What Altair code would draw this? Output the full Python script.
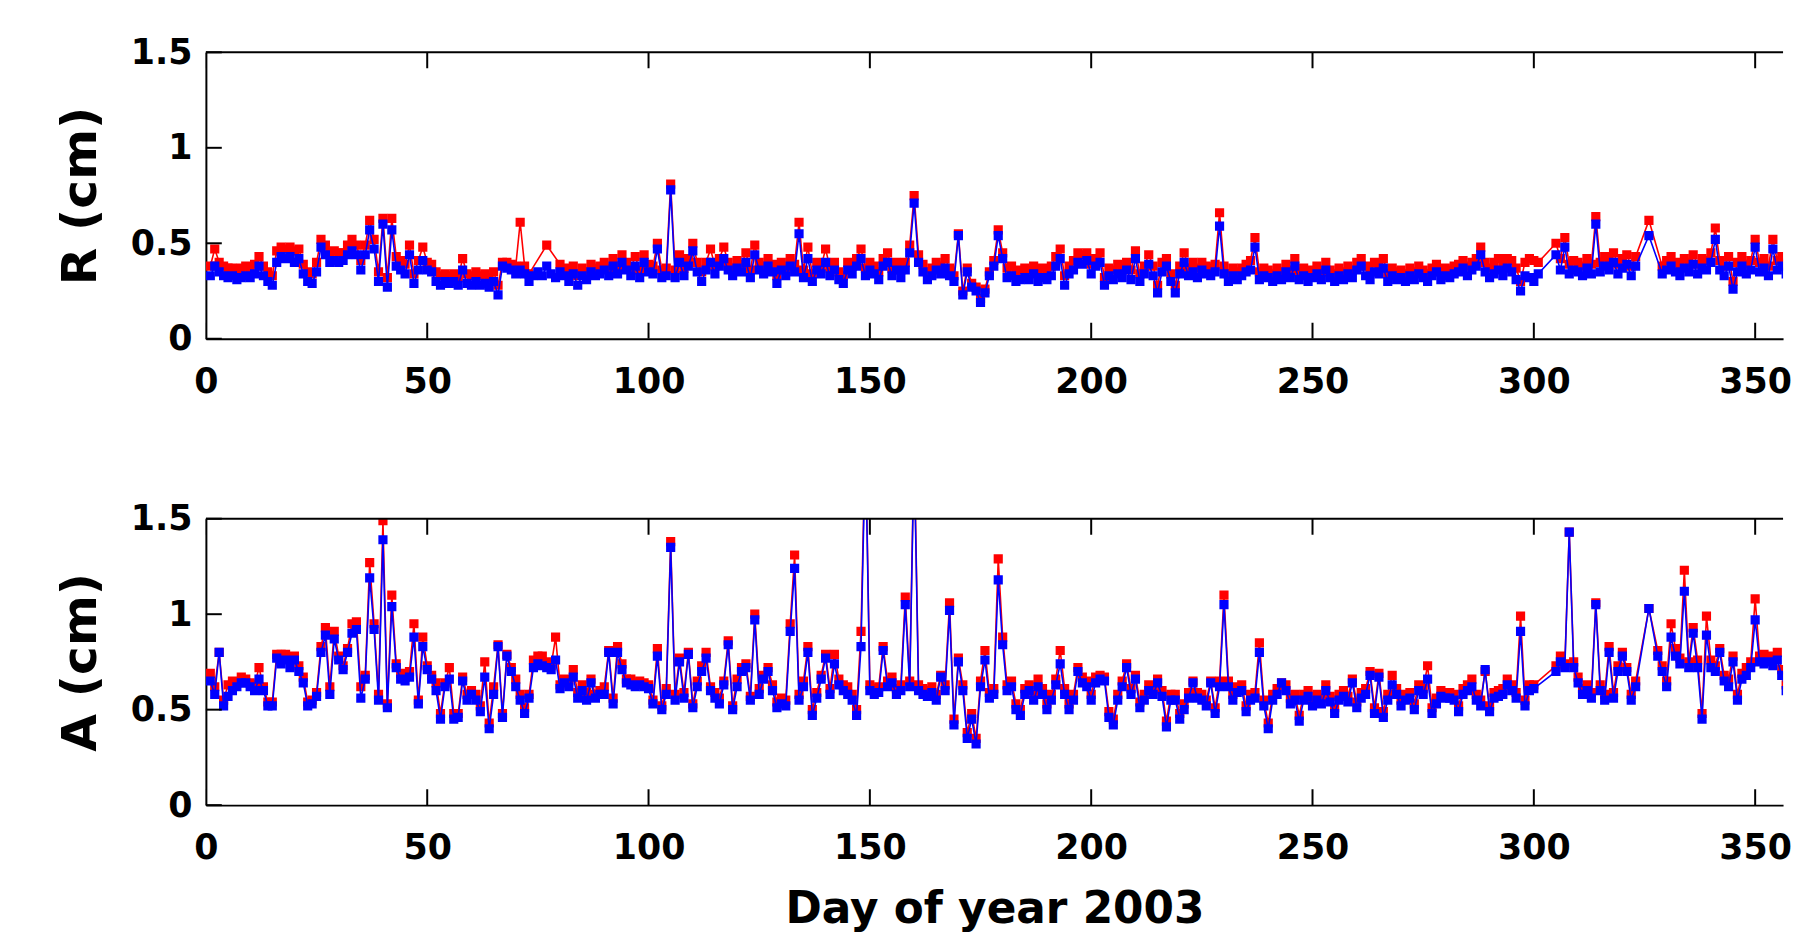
import altair as alt
import pandas as pd

# ---------------- data ----------------
days = list(range(1, 361))

a_blue = [
    0.65, 0.58, 0.80, 0.52, 0.57, 0.60, 0.62, 0.64, 0.64, 0.62,
    0.60, 0.66, 0.60, 0.52, 0.52, 0.77, 0.74, 0.76, 0.72, 0.76,
    0.70, 0.64, 0.52, 0.53, 0.57, 0.80, 0.89, 0.58, 0.87, 0.76,
    0.71, 0.80, 0.90, 0.92, 0.56, 0.66, 1.19, 0.92, 0.55, 1.39,
    0.51, 1.04, 0.72, 0.66, 0.65, 0.67, 0.88, 0.53, 0.83, 0.71,
    0.66, 0.60, 0.45, 0.62, 0.66, 0.45, 0.46, 0.65, 0.55, 0.58,
    0.55, 0.49, 0.67, 0.40, 0.58, 0.83, 0.46, 0.78, 0.70, 0.62,
    0.55, 0.48, 0.56, 0.72, 0.74, 0.73, 0.72, 0.71, 0.76, 0.61,
    0.64, 0.62, 0.67, 0.56, 0.60, 0.55, 0.64, 0.56, 0.58, 0.58,
    0.80, 0.53, 0.80, 0.71, 0.64, 0.63, 0.62, 0.63, 0.62, 0.61,
    0.53, 0.78, 0.50, 0.58, 1.35, 0.55, 0.75, 0.56, 0.79, 0.51,
    0.62, 0.70, 0.77, 0.60, 0.56, 0.53, 0.63, 0.84, 0.50, 0.62,
    0.70, 0.72, 0.55, 0.97, 0.58, 0.66, 0.70, 0.60, 0.51, 0.53,
    0.52, 0.91, 1.24, 0.55, 0.62, 0.80, 0.47, 0.56, 0.66, 0.77,
    0.58, 0.74, 0.63, 0.60, 0.58, 0.55, 0.47, 0.83, 1.90, 0.60,
    0.58, 0.59, 0.81, 0.62, 0.64, 0.58, 0.60, 1.05, 0.62, 1.85,
    0.60, 0.58, 0.57, 0.59, 0.55, 0.67, 0.60, 1.02, 0.42, 0.75,
    0.60, 0.35, 0.45, 0.32, 0.62, 0.76, 0.56, 0.58, 1.18, 0.84,
    0.60, 0.62, 0.50, 0.47, 0.58, 0.60, 0.55, 0.62, 0.58, 0.50,
    0.55, 0.63, 0.74, 0.58, 0.50, 0.55, 0.70, 0.64, 0.62, 0.55,
    0.64, 0.66, 0.65, 0.46, 0.42, 0.55, 0.62, 0.72, 0.58, 0.66,
    0.51, 0.55, 0.60, 0.58, 0.64, 0.57, 0.41, 0.55, 0.55, 0.45,
    0.50, 0.56, 0.64, 0.56, 0.55, 0.52, 0.64, 0.48, 0.62, 1.05,
    0.62, 0.55, 0.59, 0.60, 0.49, 0.55, 0.56, 0.80, 0.52, 0.40,
    0.55, 0.58, 0.64, 0.60, 0.53, 0.55, 0.44, 0.55, 0.57, 0.52,
    0.55, 0.53, 0.60, 0.54, 0.48, 0.55, 0.57, 0.54, 0.64, 0.51,
    0.56, 0.58, 0.68, 0.48, 0.67, 0.46, 0.55, 0.63, 0.58, 0.52,
    0.55, 0.56, 0.50, 0.60, 0.58, 0.66, 0.48, 0.53, 0.57, 0.56,
    0.56, 0.55, 0.49, 0.58, 0.60, 0.62, 0.55, 0.52, 0.71, 0.49,
    0.56, 0.57, 0.58, 0.63, 0.60, 0.56, 0.91, 0.52, 0.60, 0.61,
    None, None, None, None, 0.70, 0.75, 0.72, 1.43, 0.72, 0.64,
    0.58, 0.60, 0.56, 1.05, 0.60, 0.55, 0.80, 0.56, 0.70, 0.78,
    0.70, 0.55, 0.62, None, None, 1.03, None, 0.78, 0.70, 0.62,
    0.88, 0.78, 0.74, 1.12, 0.72, 0.90, 0.72, 0.45, 0.89, 0.72,
    0.70, 0.80, 0.65, 0.62, 0.75, 0.55, 0.66, 0.68, 0.72, 0.97,
    0.75, 0.74, 0.75, 0.73, 0.76, 0.68, 0.60, 0.55, 0.58, 0.60,
]

a_red = [
    0.69, 0.62, 0.80, 0.55, 0.63, 0.65, 0.64, 0.67, 0.66, 0.64,
    0.63, 0.72, 0.62, 0.54, 0.54, 0.79, 0.79, 0.79, 0.77, 0.78,
    0.73, 0.67, 0.54, 0.55, 0.59, 0.83, 0.93, 0.62, 0.91, 0.78,
    0.73, 0.82, 0.95, 0.96, 0.62, 0.68, 1.27, 0.95, 0.58, 1.49,
    0.53, 1.10, 0.74, 0.69, 0.67, 0.70, 0.95, 0.55, 0.88, 0.73,
    0.68, 0.64, 0.48, 0.64, 0.72, 0.48, 0.48, 0.67, 0.58, 0.60,
    0.58, 0.52, 0.75, 0.43, 0.62, 0.84, 0.48, 0.79, 0.72, 0.66,
    0.58, 0.51, 0.58, 0.76, 0.78, 0.78, 0.75, 0.73, 0.88, 0.63,
    0.66, 0.65, 0.71, 0.59, 0.63, 0.59, 0.66, 0.58, 0.60, 0.62,
    0.81, 0.56, 0.83, 0.74, 0.66, 0.66, 0.64, 0.65, 0.64, 0.63,
    0.55, 0.82, 0.52, 0.61, 1.38, 0.58, 0.77, 0.59, 0.80, 0.53,
    0.65, 0.73, 0.80, 0.62, 0.59, 0.56, 0.65, 0.86, 0.52, 0.66,
    0.72, 0.74, 0.57, 1.00, 0.61, 0.68, 0.72, 0.63, 0.54, 0.56,
    0.55, 0.95, 1.31, 0.58, 0.65, 0.83, 0.50, 0.59, 0.68, 0.79,
    0.61, 0.79, 0.66, 0.63, 0.62, 0.58, 0.50, 0.91, 1.95, 0.63,
    0.61, 0.62, 0.83, 0.65, 0.67, 0.61, 0.63, 1.09, 0.65, 1.90,
    0.63, 0.61, 0.60, 0.62, 0.58, 0.68, 0.63, 1.06, 0.45, 0.77,
    0.63, 0.38, 0.48, 0.35, 0.65, 0.81, 0.59, 0.61, 1.29, 0.88,
    0.63, 0.65, 0.53, 0.50, 0.61, 0.63, 0.58, 0.66, 0.61, 0.53,
    0.58, 0.66, 0.81, 0.61, 0.53, 0.58, 0.72, 0.67, 0.65, 0.58,
    0.67, 0.68, 0.67, 0.49, 0.45, 0.58, 0.65, 0.74, 0.61, 0.68,
    0.54, 0.58, 0.63, 0.61, 0.66, 0.60, 0.44, 0.58, 0.58, 0.48,
    0.53, 0.59, 0.65, 0.59, 0.58, 0.55, 0.65, 0.51, 0.65, 1.10,
    0.65, 0.58, 0.62, 0.63, 0.52, 0.58, 0.59, 0.85, 0.55, 0.43,
    0.58, 0.61, 0.64, 0.63, 0.56, 0.58, 0.47, 0.58, 0.60, 0.55,
    0.58, 0.56, 0.63, 0.57, 0.51, 0.58, 0.60, 0.57, 0.66, 0.54,
    0.59, 0.61, 0.70, 0.51, 0.69, 0.49, 0.58, 0.68, 0.61, 0.55,
    0.58, 0.59, 0.53, 0.63, 0.61, 0.73, 0.51, 0.56, 0.60, 0.59,
    0.59, 0.58, 0.52, 0.61, 0.63, 0.66, 0.58, 0.55, 0.70, 0.52,
    0.59, 0.60, 0.61, 0.66, 0.63, 0.59, 0.99, 0.55, 0.63, 0.63,
    None, None, None, None, 0.73, 0.78, 0.74, 1.43, 0.75, 0.67,
    0.61, 0.63, 0.59, 1.06, 0.63, 0.58, 0.83, 0.59, 0.73, 0.80,
    0.72, 0.58, 0.65, None, None, 1.03, None, 0.81, 0.73, 0.65,
    0.95, 0.82, 0.77, 1.23, 0.75, 0.93, 0.76, 0.48, 0.99, 0.76,
    0.73, 0.82, 0.68, 0.66, 0.78, 0.58, 0.69, 0.72, 0.75, 1.08,
    0.78, 0.79, 0.78, 0.76, 0.80, 0.71, 0.63, 0.58, 0.61, 0.63,
]

r_blue = [
    0.33, 0.38, 0.35, 0.33, 0.32, 0.33, 0.31, 0.32, 0.33, 0.32,
    0.34, 0.38, 0.33, 0.30, 0.28, 0.40, 0.43, 0.42, 0.43, 0.40,
    0.42, 0.34, 0.30, 0.29, 0.35, 0.48, 0.44, 0.40, 0.41, 0.40,
    0.41, 0.44, 0.46, 0.44, 0.36, 0.44, 0.57, 0.47, 0.30, 0.60,
    0.27, 0.57, 0.38, 0.36, 0.34, 0.44, 0.29, 0.36, 0.41, 0.36,
    0.35, 0.30, 0.28, 0.30, 0.29, 0.30, 0.28, 0.36, 0.29, 0.28,
    0.30, 0.28, 0.29, 0.27, 0.30, 0.23, 0.38, 0.37, 0.36, 0.34,
    0.36, 0.34, 0.30, 0.33, 0.35, 0.33, 0.38, 0.34, 0.32, 0.35,
    0.33, 0.30, 0.34, 0.28, 0.33, 0.31, 0.35, 0.33, 0.34, 0.36,
    0.33, 0.38, 0.34, 0.40, 0.36, 0.33, 0.38, 0.32, 0.40, 0.35,
    0.34, 0.47, 0.32, 0.33, 0.78, 0.32, 0.40, 0.33, 0.38, 0.46,
    0.35, 0.30, 0.36, 0.40, 0.34, 0.38, 0.42, 0.36, 0.33, 0.37,
    0.35, 0.40, 0.32, 0.44, 0.36, 0.34, 0.38, 0.35, 0.29, 0.36,
    0.33, 0.38, 0.35, 0.55, 0.32, 0.42, 0.30, 0.36, 0.34, 0.40,
    0.33, 0.36, 0.31, 0.29, 0.36, 0.34, 0.38, 0.42, 0.33, 0.36,
    0.34, 0.31, 0.38, 0.40, 0.33, 0.36, 0.32, 0.36, 0.45, 0.71,
    0.40, 0.35, 0.31, 0.33, 0.36, 0.34, 0.37, 0.33, 0.30, 0.54,
    0.23, 0.35, 0.27, 0.25, 0.19, 0.24, 0.33, 0.38, 0.54, 0.42,
    0.32, 0.33, 0.30, 0.31, 0.32, 0.31, 0.34, 0.30, 0.32, 0.31,
    0.33, 0.38, 0.42, 0.28, 0.34, 0.36, 0.40, 0.39, 0.41, 0.34,
    0.38, 0.40, 0.28, 0.33, 0.31, 0.34, 0.32, 0.36, 0.31, 0.42,
    0.30, 0.34, 0.39, 0.33, 0.24, 0.35, 0.38, 0.30, 0.24, 0.34,
    0.40, 0.33, 0.35, 0.32, 0.36, 0.34, 0.33, 0.35, 0.59, 0.34,
    0.30, 0.33, 0.31, 0.33, 0.35, 0.36, 0.48, 0.31, 0.33, 0.32,
    0.30, 0.33, 0.31, 0.35, 0.32, 0.38, 0.31, 0.33, 0.30, 0.32,
    0.34, 0.31, 0.36, 0.32, 0.30, 0.33, 0.31, 0.34, 0.32, 0.36,
    0.38, 0.33, 0.31, 0.35, 0.34, 0.37, 0.30, 0.33, 0.31, 0.32,
    0.30, 0.33, 0.31, 0.34, 0.32, 0.30, 0.33, 0.35, 0.31, 0.33,
    0.32, 0.34, 0.35, 0.37, 0.33, 0.36, 0.38, 0.44, 0.35, 0.32,
    0.34, 0.36, 0.33, 0.37, 0.35, 0.31, 0.25, 0.33, 0.32, 0.30,
    0.34, None, None, None, 0.44, 0.36, 0.48, 0.34, 0.36, 0.35,
    0.33, 0.37, 0.34, 0.60, 0.35, 0.38, 0.36, 0.40, 0.34, 0.37,
    0.39, 0.33, 0.38, None, None, 0.54, None, None, 0.34, 0.36,
    0.38, 0.35, 0.33, 0.37, 0.35, 0.39, 0.34, 0.37, 0.36, 0.40,
    0.52, 0.36, 0.33, 0.38, 0.26, 0.35, 0.38, 0.34, 0.36, 0.48,
    0.35, 0.37, 0.33, 0.47, 0.36, 0.38, 0.34, 0.35, 0.33, 0.36,
]

r_red = [
    0.38, 0.47, 0.40, 0.38, 0.37, 0.37, 0.36, 0.37, 0.38, 0.37,
    0.39, 0.43, 0.38, 0.35, 0.33, 0.46, 0.48, 0.47, 0.48, 0.46,
    0.47, 0.39, 0.35, 0.34, 0.40, 0.52, 0.49, 0.45, 0.46, 0.45,
    0.45, 0.49, 0.52, 0.49, 0.41, 0.49, 0.62, 0.52, 0.35, 0.63,
    0.32, 0.63, 0.43, 0.41, 0.39, 0.49, 0.34, 0.41, 0.48, 0.40,
    0.39, 0.35, 0.33, 0.34, 0.33, 0.34, 0.32, 0.42, 0.34, 0.33,
    0.35, 0.33, 0.34, 0.32, 0.35, 0.28, 0.40, 0.40, 0.39, 0.38,
    0.61, 0.38, 0.34, None, None, None, 0.49, None, None, 0.39,
    0.37, 0.34, 0.38, 0.33, 0.37, 0.35, 0.39, 0.37, 0.38, 0.40,
    0.37, 0.42, 0.38, 0.44, 0.40, 0.37, 0.43, 0.36, 0.44, 0.39,
    0.38, 0.50, 0.36, 0.37, 0.81, 0.36, 0.44, 0.37, 0.42, 0.50,
    0.40, 0.35, 0.40, 0.47, 0.38, 0.42, 0.48, 0.40, 0.37, 0.41,
    0.39, 0.45, 0.36, 0.49, 0.40, 0.38, 0.42, 0.39, 0.33, 0.40,
    0.37, 0.42, 0.39, 0.61, 0.36, 0.48, 0.34, 0.40, 0.38, 0.47,
    0.37, 0.40, 0.35, 0.33, 0.40, 0.38, 0.42, 0.47, 0.37, 0.40,
    0.38, 0.35, 0.42, 0.45, 0.37, 0.40, 0.36, 0.40, 0.49, 0.75,
    0.44, 0.39, 0.35, 0.37, 0.40, 0.38, 0.42, 0.37, 0.33, 0.55,
    0.25, 0.37, 0.29, 0.27, 0.21, 0.26, 0.35, 0.41, 0.57, 0.45,
    0.37, 0.38, 0.35, 0.36, 0.37, 0.36, 0.38, 0.35, 0.37, 0.36,
    0.38, 0.43, 0.47, 0.33, 0.38, 0.41, 0.45, 0.44, 0.45, 0.39,
    0.42, 0.45, 0.32, 0.37, 0.36, 0.39, 0.37, 0.40, 0.36, 0.46,
    0.34, 0.38, 0.44, 0.38, 0.28, 0.40, 0.42, 0.34, 0.28, 0.38,
    0.45, 0.37, 0.40, 0.37, 0.40, 0.38, 0.37, 0.39, 0.66, 0.38,
    0.34, 0.37, 0.35, 0.37, 0.39, 0.41, 0.53, 0.35, 0.37, 0.36,
    0.34, 0.37, 0.35, 0.39, 0.36, 0.42, 0.35, 0.37, 0.34, 0.36,
    0.38, 0.35, 0.40, 0.36, 0.34, 0.37, 0.35, 0.38, 0.36, 0.40,
    0.42, 0.38, 0.35, 0.40, 0.39, 0.42, 0.34, 0.37, 0.35, 0.36,
    0.34, 0.37, 0.35, 0.38, 0.36, 0.34, 0.37, 0.39, 0.35, 0.37,
    0.36, 0.38, 0.39, 0.41, 0.38, 0.40, 0.42, 0.48, 0.40, 0.37,
    0.40, 0.42, 0.38, 0.42, 0.41, 0.37, 0.30, 0.40, 0.42, 0.41,
    0.40, None, None, None, 0.50, 0.42, 0.53, 0.39, 0.41, 0.40,
    0.38, 0.42, 0.39, 0.64, 0.40, 0.43, 0.41, 0.45, 0.39, 0.42,
    0.44, 0.38, 0.43, None, None, 0.62, None, None, 0.38, 0.41,
    0.43, 0.40, 0.38, 0.42, 0.40, 0.44, 0.39, 0.42, 0.41, 0.45,
    0.58, 0.41, 0.38, 0.43, 0.30, 0.40, 0.43, 0.39, 0.41, 0.52,
    0.40, 0.42, 0.38, 0.52, 0.41, 0.43, 0.39, 0.40, 0.38, 0.41,
]

x_ticks = [0, 50, 100, 150, 200, 250, 300, 350]
y_ticks = [0, 0.5, 1, 1.5]
x_domain = [0, 356.3]
y_domain = [0, 1.5]

# ---------------- styling ----------------
W, H = 1586, 288
FONT = "DejaVu Sans"
TICK_LEN = 16
RED, BLUE = "#ff0000", "#0000ff"


def panel(red_vals, blue_vals, ytitle, xtitle):
    xscale = alt.Scale(domain=x_domain, nice=False, zero=False)
    yscale = alt.Scale(domain=y_domain, nice=False, zero=False)

    xaxis_kw = dict(
        values=x_ticks, format="d", ticks=False, grid=False,
        labelFont=FONT, labelFontSize=35, labelFontWeight="bold",
        labelColor="black", labelFlush=False, labelOverlap=False,
        labelPadding=26, domainColor="black", domainWidth=2,
    )
    if xtitle:
        xaxis_kw.update(title=xtitle, titleFont=FONT, titleFontSize=44,
                        titleFontWeight="bold", titleColor="black",
                        titlePadding=22)
    else:
        xaxis_kw.update(title=None)
    xaxis = alt.Axis(**xaxis_kw)
    yaxis = alt.Axis(
        values=y_ticks, labelExpr="'' + datum.value", ticks=False, grid=False,
        labelFont=FONT, labelFontSize=35, labelFontWeight="bold",
        labelColor="black", labelPadding=14, domainColor="black",
        domainWidth=2, title=ytitle, titleFont=FONT, titleFontSize=49,
        titleFontWeight="bold", titleColor="black", titlePadding=25,
    )

    layers = []
    for vals, col in ((red_vals, RED), (blue_vals, BLUE)):
        df = pd.DataFrame({"day": days, "v": vals}).dropna()
        base = alt.Chart(df).encode(
            x=alt.X("day:Q", scale=xscale, axis=xaxis),
            y=alt.Y("v:Q", scale=yscale, axis=yaxis),
        )
        layers.append(base.mark_line(color=col, strokeWidth=1.6, clip=True))
        layers.append(base.mark_point(shape="square", filled=True, size=85,
                                      color=col, opacity=1, clip=True))

    xt = pd.DataFrame({"day": x_ticks})
    yt = pd.DataFrame({"v": y_ticks})
    xt_enc = alt.X("day:Q", scale=xscale, axis=xaxis)
    yt_enc = alt.Y("v:Q", scale=yscale, axis=yaxis)
    # inward ticks on bottom, top and left edges
    layers.append(alt.Chart(xt).mark_rule(color="black", strokeWidth=2, clip=True)
                  .encode(x=xt_enc, y=alt.value(H), y2=alt.value(H - TICK_LEN)))
    layers.append(alt.Chart(xt).mark_rule(color="black", strokeWidth=2, clip=True)
                  .encode(x=xt_enc, y=alt.value(0), y2=alt.value(TICK_LEN)))
    layers.append(alt.Chart(yt).mark_rule(color="black", strokeWidth=2)
                  .encode(y=yt_enc, x=alt.value(0), x2=alt.value(TICK_LEN)))
    # top frame line
    layers.append(alt.Chart(xt.head(1)).mark_rule(color="black", strokeWidth=2)
                  .encode(x=alt.value(0), x2=alt.value(W), y=alt.value(0)))

    return alt.layer(*layers).properties(width=W, height=H)


top = panel(r_red, r_blue, "R (cm)", None)
bottom = panel(a_red, a_blue, "A (cm)", "Day of year 2003")

chart = (
    alt.vconcat(top, bottom, spacing=103)
    .properties(padding={"left": 48, "top": 25, "right": 0, "bottom": 0})
    .configure(background="white")
    .configure_view(stroke="transparent", strokeWidth=0)
)

chart.save("out.html", embed_options={"renderer": "svg", "actions": False})
